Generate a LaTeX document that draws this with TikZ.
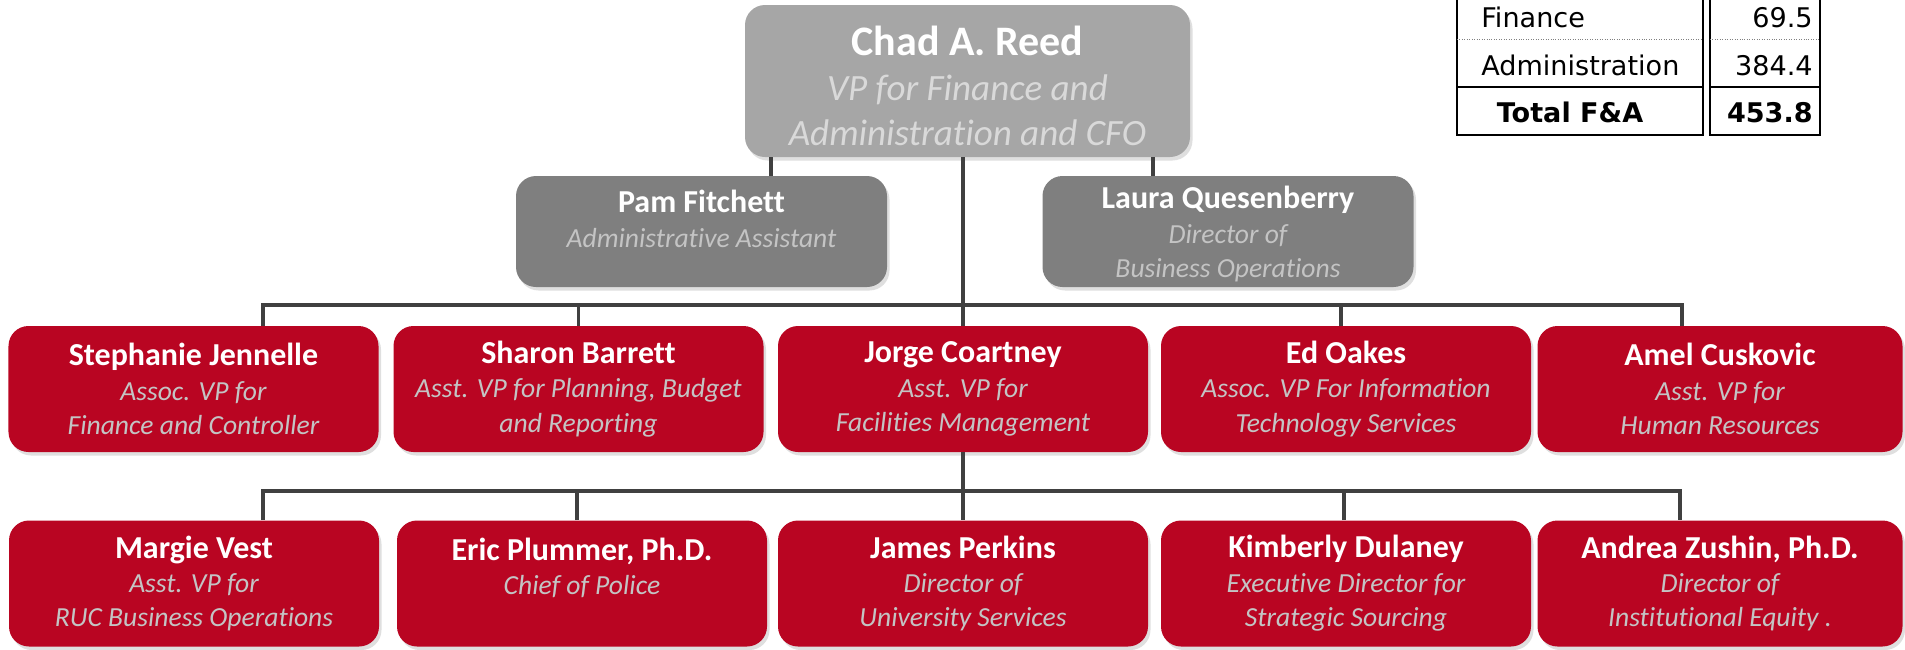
\documentclass[tikz,border=0pt]{standalone}
\usepackage{fontspec}
\setmainfont{Carlito}[Ligatures=NoCommon]
\newfontfamily\tabfont{DejaVu Sans}
\usetikzlibrary{shadows}

\definecolor{vtred}{HTML}{B90522}
\definecolor{bossgray}{HTML}{A6A6A6}
\definecolor{staffgray}{HTML}{7F7F7F}
\definecolor{wire}{HTML}{404040}
\definecolor{subtxt}{HTML}{C4C4C4}
\definecolor{bosssub}{HTML}{D9D9D9}

\newcommand{\nm}[1]{{\upshape\bfseries\color{white}\fontsize{18.2}{19.6}\selectfont #1}}

\tikzset{
  person/.style={rounded corners=0.4cm, align=center, inner sep=0pt,
    minimum width=7.4cm, minimum height=2.52cm, text=subtxt,
    font=\fontsize{15.7}{19.6}\selectfont\itshape,
    drop shadow={opacity=0.25, shadow xshift=0.05cm, shadow yshift=-0.07cm}},
  redperson/.style={person, fill=vtred},
  grayperson/.style={person, fill=staffgray, minimum width=7.42cm, minimum height=2.22cm},
  link/.style={draw=wire, line width=2.2pt},
  tabtxt/.style={inner sep=0pt, font=\tabfont\fontsize{15.4}{18}\selectfont}
}

\begin{document}
\begin{tikzpicture}
\useasboundingbox (0,0) rectangle (38.1,-12.98);

% the boss
\node[person, fill=bossgray, minimum width=8.9cm, minimum height=3.04cm,
  text=bosssub, font=\fontsize{21.1}{25.6}\selectfont\itshape] (chad) at (19.35,-1.62)
  {\rule{0pt}{0.8cm}{\upshape\bfseries\color{white}\fontsize{23.9}{25.6}\selectfont Chad A. Reed}\\
   VP for Finance and\\ Administration and CFO};

% staff
\node[grayperson] (pam) at (14.03,-4.63) {\rule{0pt}{0.62cm}\nm{Pam Fitchett}\\ Administrative Assistant\\ ~};
\node[grayperson] (laura) at (24.56,-4.63) {\rule{0pt}{0.55cm}\nm{Laura Quesenberry}\\ Director of\\ Business Operations};

% direct reports
\node[redperson] (stephanie) at (3.87,-7.78) {\nm{Stephanie Jennelle}\\ Assoc. VP for\\ Finance and Controller};
\node[redperson] (sharon) at (11.57,-7.78) {\nm{Sharon Barrett}\\ Asst. VP for Planning, Budget\\ and Reporting};
\node[redperson] (jorge) at (19.26,-7.78) {\nm{Jorge Coartney}\\ Asst. VP for\\ Facilities Management};
\node[redperson] (ed) at (26.92,-7.78) {\nm{Ed Oakes}\\ Assoc. VP For Information\\ Technology Services};
\node[redperson, minimum width=7.3cm] (amel) at (34.4,-7.78) {\nm{Amel Cuskovic}\\ Asst. VP for\\ Human Resources};

% second row
\node[redperson] (margie) at (3.88,-11.67) {\nm{Margie Vest}\\ Asst. VP for\\ RUC Business Operations};
\node[redperson] (eric) at (11.64,-11.67) {\nm{Eric Plummer, Ph.D.}\\ Chief of Police\\ ~};
\node[redperson] (james) at (19.26,-11.67) {\nm{James Perkins}\\ Director of\\ University Services};
\node[redperson] (kimberly) at (26.92,-11.67) {\nm{Kimberly Dulaney}\\ Executive Director for\\ Strategic Sourcing};
\node[redperson, minimum width=7.3cm] (andrea) at (34.4,-11.67) {\nm{Andrea Zushin, Ph.D.}\\ Director of\\ Institutional Equity .};

\coordinate (bus1) at (0,-6.1);
\coordinate (bus2) at (0,-9.82);

% trunk
\draw[link] (chad.south -| jorge.north) -- (jorge.north);
\draw[link] (jorge.south) -- (james.north);
\draw[link] ([xshift=1.39cm]pam.north) -- ([xshift=1.39cm]pam.north |- chad.south);
\draw[link] ([xshift=-1.5cm]laura.north) -- ([xshift=-1.5cm]laura.north |- chad.south);

% the two bars
\draw[link] ([xshift=1.39cm]stephanie.north) |- ([xshift=-0.76cm]amel.north |- bus1) -- ([xshift=-0.76cm]amel.north);
\foreach \n/\dx in {sharon/0, ed/-0.1}
  \draw[link] ([xshift=\dx cm]\n.north) -- ([xshift=\dx cm]\n.north |- bus1);
\draw[link] ([xshift=1.38cm]margie.north) |- ([xshift=-0.8cm]andrea.north |- bus2) -- ([xshift=-0.8cm]andrea.north);
\foreach \n/\dx in {eric/-0.1, kimberly/-0.04}
  \draw[link] ([xshift=\dx cm]\n.north) -- ([xshift=\dx cm]\n.north |- bus2);

% budget table, cut by the top edge
\draw[line width=1.2pt] (29.14,0.2) rectangle (34.06,-2.7);
\draw[line width=1.2pt] (34.2,0.2) rectangle (36.4,-2.7);
\draw[gray, densely dotted] (29.14,-0.78) -- (34.06,-0.78) (34.2,-0.78) -- (36.4,-0.78);
\draw[line width=1.2pt] (29.14,-1.74) -- (34.06,-1.74) (34.2,-1.74) -- (36.4,-1.74);

\node[tabtxt, anchor=base west] (fin) at (29.62,-0.54) {Finance};
\node[tabtxt, anchor=base west] (adm) at (29.62,-1.5) {Administration};
\node[tabtxt, anchor=base, font=\tabfont\bfseries\fontsize{15.4}{18}\selectfont] (tot) at (31.4,-2.44) {Total F\&A};
\node[tabtxt, anchor=base east] (finval) at (36.26,-0.54) {69.5};
\node[tabtxt, anchor=base east] (admval) at (36.26,-1.5) {384.4};
\node[tabtxt, anchor=base east, font=\tabfont\bfseries\fontsize{15.4}{18}\selectfont] (totval) at (36.26,-2.44) {453.8};

\end{tikzpicture}
\end{document}
